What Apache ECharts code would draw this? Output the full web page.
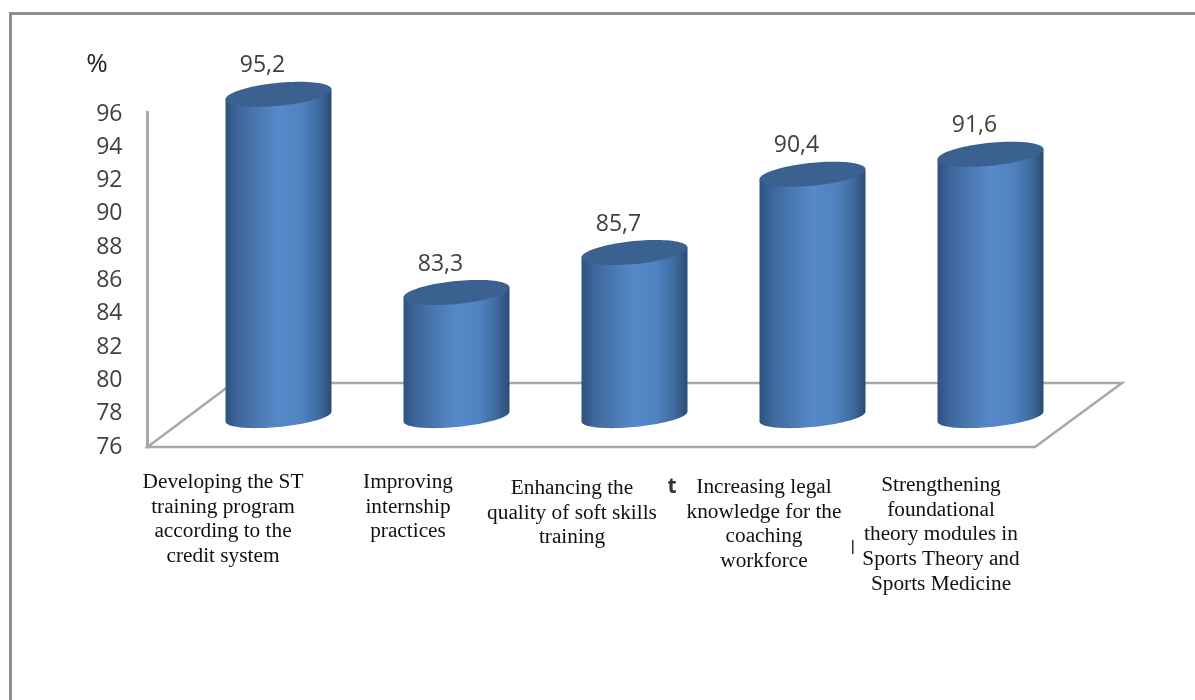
<!DOCTYPE html>
<html>
<head>
<meta charset="utf-8">
<script src="https://cdn.jsdelivr.net/npm/echarts@6/dist/echarts.min.js"></script>
<style>html,body{margin:0;padding:0;background:#fff}#c{width:1195px;height:700px}</style>
</head>
<body>
<div id="c"></div>
<script>
const categories = [
  "Developing the ST\ntraining program\naccording to the\ncredit system",
  "Improving\ninternship\npractices",
  "Enhancing the\nquality of soft skills\ntraining",
  "Increasing legal\nknowledge for the\ncoaching\nworkforce",
  "Strengthening\nfoundational\ntheory modules in\nSports Theory and\nSports Medicine"
];
const values = [95.2, 83.3, 85.7, 90.4, 91.6];
const axisMin = 76, axisMax = 96, axisStep = 2;
const labelCentersX = [223, 408, 572, 764, 941];
const labelTopsY = [470, 470, 476, 475, 473];

const chart = echarts.init(document.getElementById('c'), null, {renderer:'canvas'});
const R = 53, TILT = 5, DEPTH_TOP = 33, DEPTH_BASE = 30.5;
const bodyFill = {type:'linear',x:0,y:0,x2:1,y2:0,colorStops:[
  {offset:0,color:'#2f5280'},{offset:0.12,color:'#3d669b'},{offset:0.3,color:'#4a78b1'},
  {offset:0.5,color:'#5689ca'},{offset:0.72,color:'#4f82c0'},{offset:0.88,color:'#3f6a9f'},{offset:1,color:'#2b4b75'}]};

function ell(cx, cy, ry, t){
  return [cx + Math.cos(t)*R, cy - Math.cos(t)*TILT + Math.sin(t)*ry];
}
function renderCylinder(params, api){
  const i = api.value(0), v = api.value(1);
  const top = api.coord([i, v]), base = api.coord([i, axisMin]);
  const cx = top[0], ty = top[1]-DEPTH_TOP, by = base[1]-DEPTH_BASE;
  const body = [], cap = [];
  for(let k=0;k<=48;k++){ body.push(ell(cx,by,10.5,Math.PI*k/48)); }
  body.unshift(ell(cx,ty,0,0));
  body.push(ell(cx,ty,0,Math.PI));
  for(let k=0;k<96;k++){ cap.push(ell(cx,ty,11.5,2*Math.PI*k/96)); }
  return {type:'group',children:[
    {type:'polygon',shape:{points:body},style:{fill:bodyFill}},
    {type:'polygon',shape:{points:cap},style:{fill:'#3a618f'}},
    {type:'text',style:{text:String(v).replace('.',','),x:cx-16,y:ty-28.5,align:'center',verticalAlign:'middle',
      font:'23px "Open Sans"',fill:'#404040'}}
  ]};
}
const labelGraphics = categories.map((t,i)=>({
  type:'text',z:5,
  x:labelCentersX[i],y:labelTopsY[i],
  style:{text:t,align:'center',verticalAlign:'top',font:'21.3px "Liberation Serif"',lineHeight:24.7,fill:'#111'}
}));
chart.setOption({
  animation:false,
  backgroundColor:'#fff',
  grid:{left:189.5,top:114,width:890,height:333},
  xAxis:{type:'category',data:categories,axisLine:{show:false},axisTick:{show:false},axisLabel:{show:false},splitLine:{show:false}},
  yAxis:{type:'value',min:axisMin,max:axisMax,interval:axisStep,offset:42,
    axisLine:{show:true,lineStyle:{color:'#a8a8a8',width:3}},axisTick:{show:false},splitLine:{show:false},
    axisLabel:{margin:25,color:'#404040',fontFamily:'Open Sans',fontSize:23}},
  graphic:[
    {type:'polyline',z:-1,shape:{points:[[10.5,700],[10.5,13.5],[1195,13.5]]},style:{stroke:'#8f8f8f',lineWidth:3,fill:null}},
    {type:'polygon',z:-1,shape:{points:[[147.5,447],[233,383],[1122,383],[1035,447]]},style:{stroke:'#a8a8a8',lineWidth:2.5,fill:'#fff'}},
    {type:'line',z:-1,shape:{x1:147.5,y1:111,x2:147.5,y2:114},style:{stroke:'#a8a8a8',lineWidth:3}},
    {type:'text',x:97,y:65,style:{text:'%',align:'center',verticalAlign:'middle',font:'26px "Open Sans"',fill:'#222'}},
    {type:'text',x:672,y:487,style:{text:'t',align:'center',verticalAlign:'middle',font:'bold 21px "Open Sans"',fill:'#333'}},
    {type:'rect',shape:{x:852,y:540,width:1.5,height:14},style:{fill:'#333'}},
    ...labelGraphics
  ],
  series:[{type:'custom',data:values.map((v,i)=>[i,v]),encode:{x:0,y:1},renderItem:renderCylinder,clip:false}]
});
</script>
</body>
</html>
